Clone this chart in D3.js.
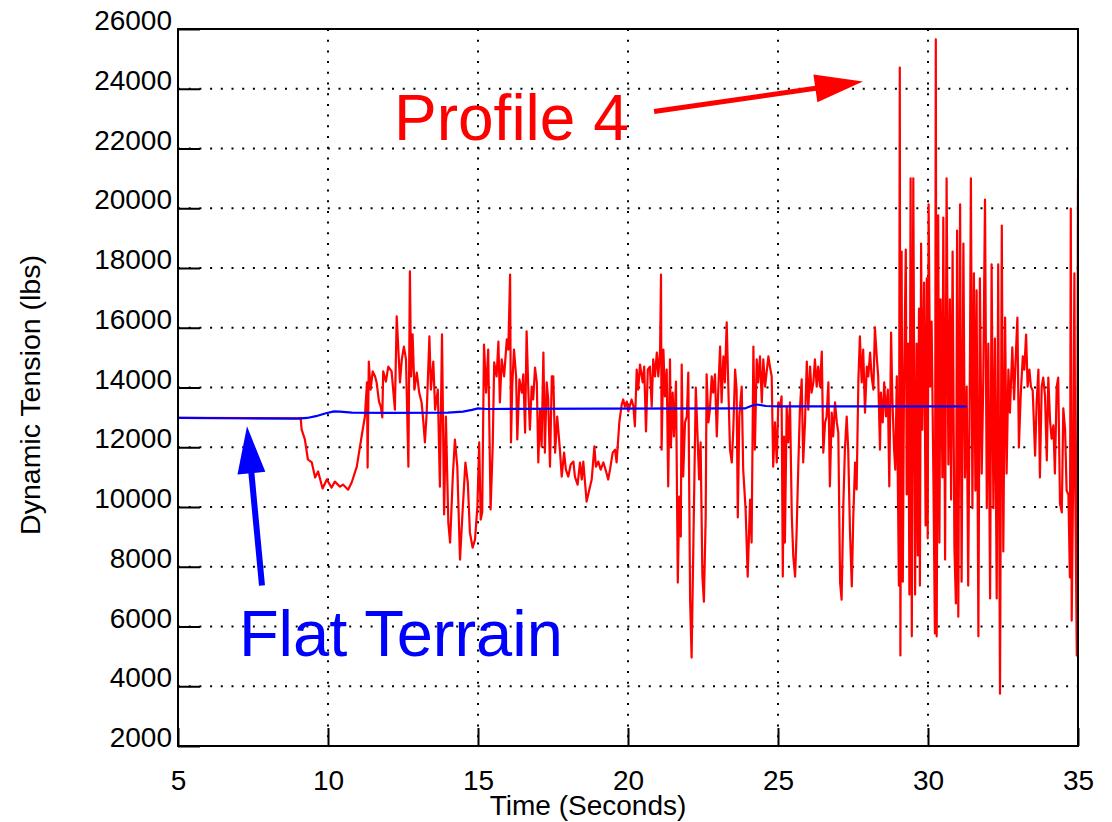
<!DOCTYPE html>
<html>
<head>
<meta charset="utf-8">
<script src="https://cdn.jsdelivr.net/npm/d3@7"></script>
<style>
  body { margin: 0; background: #fff; }
  text { font-family: Arial, "Liberation Sans", sans-serif; fill: #000; }
</style>
</head>
<body>
<svg id="chart" width="1112" height="822"></svg>
<script>
// axis ticks
const xTicks = [5, 10, 15, 20, 25, 30, 35];
const yTicks = [2000, 4000, 6000, 8000, 10000, 12000, 14000, 16000, 18000, 20000, 22000, 24000, 26000];

// Profile 4 run: [time (s), dynamic tension (lbs)]
const profile4 = [
  [5.00,12980],[9.00,12970],[9.09,12980],[9.12,12600],[9.23,12260],[9.33,11590],[9.46,11490],[9.57,10990],
  [9.67,11190],[9.82,10620],[9.96,10920],[10.12,10650],[10.23,10850],[10.40,10680],[10.50,10750],[10.67,10580],
  [10.79,10820],[10.96,11350],[11.12,12360],[11.23,13030],[11.30,14170],[11.32,11320],[11.36,14870],[11.42,13930],
  [11.49,14540],[11.57,14370],[11.62,14170],[11.70,13530],[11.76,13360],[11.81,13000],[11.84,14540],[11.93,14200],
  [12.01,14700],[12.12,14540],[12.23,13260],[12.29,16380],[12.34,15370],[12.40,14170],[12.46,14940],[12.53,15370],
  [12.60,14940],[12.68,11350],[12.73,17890],[12.77,14370],[12.82,15780],[12.88,13930],[12.96,14500],[13.04,13830],
  [13.12,13500],[13.18,12830],[13.23,12160],[13.29,13160],[13.38,15710],[13.43,13930],[13.51,14870],[13.57,13260],
  [13.66,13930],[13.73,10680],[13.80,15780],[13.87,9750],[13.93,13030],[14.01,9480],[14.07,8810],[14.16,11020],
  [14.23,12260],[14.31,11350],[14.40,8240],[14.49,9920],[14.58,11490],[14.66,10820],[14.73,9150],[14.82,8640],
  [14.90,8910],[14.98,10010],[15.04,12160],[15.09,9580],[15.14,9820],[15.20,15440],[15.27,13830],[15.34,15270],
  [15.42,9920],[15.49,12030],[15.54,14840],[15.62,14370],[15.68,15540],[15.73,13500],[15.79,14940],[15.87,14370],
  [15.96,15610],[16.01,15270],[16.07,17780],[16.10,12160],[16.14,14030],[16.20,15270],[16.27,14370],[16.31,12260],
  [16.38,14270],[16.46,13830],[16.51,14440],[16.57,12490],[16.62,15880],[16.68,13830],[16.73,12590],[16.79,14030],
  [16.84,13600],[16.90,14670],[16.96,14170],[17.01,11490],[17.07,13260],[17.12,12030],[17.18,15170],[17.23,11820],
  [17.29,14170],[17.34,13600],[17.40,11350],[17.46,14370],[17.51,14370],[17.57,11820],[17.64,13030],[17.73,11920],
  [17.79,11020],[17.87,11820],[17.93,11250],[18.01,11020],[18.09,11420],[18.18,11520],[18.23,11020],[18.32,10750],
  [18.40,11490],[18.46,10920],[18.51,11520],[18.62,10180],[18.71,10580],[18.79,10920],[18.88,12030],[18.93,11350],
  [19.01,11520],[19.09,11250],[19.18,11490],[19.27,11190],[19.34,10920],[19.40,11250],[19.49,11820],[19.57,11920],
  [19.62,11490],[19.71,12830],[19.79,13430],[19.84,13600],[19.90,13360],[19.96,13530],[20.01,13200],[20.12,13600],
  [20.18,13370],[20.23,12700],[20.29,14600],[20.34,13930],[20.40,14770],[20.49,14170],[20.54,14700],[20.60,12530],
  [20.66,14600],[20.73,14700],[20.79,13360],[20.84,14940],[20.90,14370],[20.96,15170],[21.01,14370],[21.07,15270],
  [21.10,17780],[21.12,11920],[21.18,15270],[21.23,13700],[21.29,14600],[21.34,10690],[21.40,14940],[21.43,12030],
  [21.49,13830],[21.53,12360],[21.60,14200],[21.66,7470],[21.71,10350],[21.76,9010],[21.79,14770],[21.84,11020],
  [21.90,12830],[21.96,13030],[22.01,14500],[22.07,6900],[22.12,4960],[22.18,8810],[22.26,14000],[22.31,12590],
  [22.37,10920],[22.42,12160],[22.48,7670],[22.53,6830],[22.59,9680],[22.62,14440],[22.68,12830],[22.73,13260],
  [22.79,14370],[22.84,13830],[22.90,14440],[22.96,12360],[23.01,13930],[23.07,15370],[23.12,13500],[23.18,15040],
  [23.23,14170],[23.29,16180],[23.34,14170],[23.40,11920],[23.46,11490],[23.51,12590],[23.57,14600],[23.62,13930],
  [23.66,9650],[23.71,13030],[23.79,14030],[23.84,11250],[23.92,9920],[23.99,7670],[24.07,10250],[24.12,8810],
  [24.18,15370],[24.23,11920],[24.29,14940],[24.34,14170],[24.40,15040],[24.46,13500],[24.51,14940],[24.57,14030],
  [24.62,14500],[24.68,15040],[24.73,14700],[24.79,14370],[24.84,11350],[24.90,12830],[24.96,11490],[25.01,13500],
  [25.07,13360],[25.12,13700],[25.16,7670],[25.20,12360],[25.23,8810],[25.29,13360],[25.34,12160],[25.40,13500],
  [25.46,9680],[25.51,8340],[25.57,7670],[25.62,9150],[25.68,11490],[25.73,13260],[25.79,14270],[25.84,11490],
  [25.90,12830],[25.96,14870],[26.01,13260],[26.07,14700],[26.12,13830],[26.18,14170],[26.23,14940],[26.29,14030],
  [26.34,14700],[26.40,14030],[26.46,15200],[26.51,11820],[26.57,12830],[26.62,13030],[26.68,14170],[26.73,10690],
  [26.79,13160],[26.84,12360],[26.90,13500],[26.96,12830],[27.01,12490],[27.07,7470],[27.12,6900],[27.18,10150],
  [27.23,11920],[27.29,13030],[27.34,11920],[27.40,9150],[27.46,7340],[27.51,9680],[27.57,11490],[27.62,10590],
  [27.68,14270],[27.73,15710],[27.79,14170],[27.84,15270],[27.90,13160],[27.96,14700],[28.01,14370],[28.07,15170],
  [28.12,14370],[28.18,13930],[28.23,16010],[28.29,15040],[28.34,14370],[28.40,11920],[28.43,13830],[28.49,12830],
  [28.54,14170],[28.60,13030],[28.66,13930],[28.71,10690],[28.77,15840],[28.81,13700],[28.87,11920],[28.91,11250],
  [28.96,14370],[29.03,7370],[29.06,24710],[29.08,5030],[29.12,18550],[29.16,7500],[29.20,14030],[29.26,18620],
  [29.29,10420],[29.34,15470],[29.38,7070],[29.42,21000],[29.46,5670],[29.51,21000],[29.57,7070],[29.62,15470],
  [29.66,8380],[29.70,16640],[29.73,7370],[29.77,18820],[29.81,12590],[29.87,17510],[29.92,9380],[29.96,17650],
  [29.99,8950],[30.02,20130],[30.07,14030],[30.12,16210],[30.18,10990],[30.23,5770],[30.26,25650],[30.29,5670],
  [30.34,19760],[30.38,8810],[30.42,16950],[30.48,10990],[30.51,19690],[30.57,8240],[30.62,21000],[30.68,11420],
  [30.73,16950],[30.77,10250],[30.82,18550],[30.88,8680],[30.93,6770],[30.97,19250],[31.01,6330],[31.07,20130],
  [31.12,7500],[31.18,18820],[31.23,10990],[31.29,14030],[31.34,7370],[31.40,15200],[31.43,21000],[31.48,9960],
  [31.53,17820],[31.58,10550],[31.62,17250],[31.68,5670],[31.73,17650],[31.79,11120],[31.84,14030],[31.90,20290],
  [31.96,9960],[32.01,15470],[32.07,6940],[32.12,18120],[32.18,9960],[32.23,15640],[32.29,6940],[32.34,18120],
  [32.40,3750],[32.46,19420],[32.51,8510],[32.57,16340],[32.62,11120],[32.68,14600],[32.73,13160],[32.81,15340],
  [32.87,13600],[32.92,14900],[32.98,16340],[33.03,11990],[33.09,13730],[33.16,15040],[33.21,14600],[33.27,15770],
  [33.32,14030],[33.38,14600],[33.43,14030],[33.49,13900],[33.57,11720],[33.62,13460],[33.68,14600],[33.73,10990],
  [33.79,14030],[33.84,14330],[33.90,13730],[33.96,11560],[34.01,14330],[34.07,12860],[34.12,12290],[34.18,12730],
  [34.23,11120],[34.29,14030],[34.34,14330],[34.40,10120],[34.46,9820],[34.51,13300],[34.57,12590],[34.62,10550],
  [34.68,10420],[34.73,7640],[34.76,19990],[34.79,6200],[34.84,11120],[34.88,17820],[34.91,10550],[34.96,5030],
  [35.00,21000]
];

// Flat terrain run
const flatTerrain = [
  [5.0,12980],[7.0,12970],[9.0,12960],[9.3,12980],[9.6,13040],[9.9,13130],[10.2,13200],[10.4,13190],
  [10.8,13160],[12.0,13150],[14.0,13160],[14.5,13190],[14.8,13250],[15.0,13300],[15.3,13280],[19.0,13290],
  [23.9,13300],[24.1,13380],[24.3,13430],[24.6,13380],[25.0,13370],[31.3,13370]
];

// annotation anchors in data units
const profileLabel = { text: "Profile 4", t: 12.2, v: 22300, size: 64 };
const profileArrow = { from: [20.87, 23240], to: [27.83, 24240] };
const flatLabel = { text: "Flat Terrain", t: 7.03, v: 5000, size: 65 };
const flatArrow = { from: [7.8, 7370], to: [7.3, 12700] };

const plotLeft = 178, plotTop = 29;
const width = 900, height = 717;

const svg = d3.select("#chart");
svg.append("rect").attr("width", 1112).attr("height", 822).attr("fill", "#fff");

const x = d3.scaleLinear().domain([5, 35]).range([0, width]);
const y = d3.scaleLinear().domain([2000, 26000]).range([height, 0]);

const g = svg.append("g").attr("transform", "translate(" + plotLeft + "," + plotTop + ")");

g.append("clipPath").attr("id", "plotclip")
  .append("rect").attr("x", 0).attr("y", -2).attr("width", width).attr("height", height + 4);

// dotted grid
g.selectAll(".vgrid").data(xTicks.slice(1, -1)).enter().append("line")
  .attr("x1", d => x(d)).attr("x2", d => x(d)).attr("y1", 0).attr("y2", height)
  .attr("stroke", "#000").attr("stroke-width", 2).attr("stroke-dasharray", "2,8.7");
g.selectAll(".hgrid").data(yTicks.slice(1, -1)).enter().append("line")
  .attr("x1", 0).attr("x2", width).attr("y1", d => y(d)).attr("y2", d => y(d))
  .attr("stroke", "#000").attr("stroke-width", 2).attr("stroke-dasharray", "2,8.7");

// series
const line = d3.line().x(d => x(d[0])).y(d => y(d[1]));
g.append("path").datum(profile4)
  .attr("d", line).attr("fill", "none").attr("stroke", "#ff0000")
  .attr("stroke-width", 2.2).attr("stroke-linejoin", "round")
  .attr("clip-path", "url(#plotclip)");
g.append("path").datum(flatTerrain)
  .attr("d", line).attr("fill", "none").attr("stroke", "#0000ff")
  .attr("stroke-width", 2.2);

// axes
const xAxis = d3.axisBottom(x).tickValues(xTicks).tickSizeInner(-18).tickSizeOuter(0).tickPadding(24);
const yAxis = d3.axisLeft(y).tickValues(yTicks).tickFormat(d3.format("d"))
  .tickSizeInner(-22).tickSizeOuter(0).tickPadding(6);

const gx = g.append("g").attr("transform", "translate(0," + height + ")").call(xAxis);
const gy = g.append("g").call(yAxis);
[gx, gy].forEach(a => {
  a.select(".domain").remove();
  a.selectAll(".tick line").attr("stroke", "#000").attr("stroke-width", 2);
  a.selectAll("text").attr("font-size", 28).attr("fill", "#000")
    .style("font-family", "Arial, 'Liberation Sans', sans-serif");
});
gy.selectAll("text").attr("dy", "0.02em");

// box
g.append("rect").attr("x", 0).attr("y", 0).attr("width", width).attr("height", height)
  .attr("fill", "none").attr("stroke", "#000").attr("stroke-width", 2);

// axis titles
svg.append("text").attr("x", 588).attr("y", 815).attr("text-anchor", "middle")
  .attr("font-size", 28).text("Time (Seconds)");
svg.append("text").attr("transform", "translate(40,395) rotate(-90)")
  .attr("text-anchor", "middle").attr("font-size", 28.5).text("Dynamic Tension (lbs)");

// arrows
function arrow(a, color, w, headLen, headHalf) {
  const x0 = x(a.from[0]), y0 = y(a.from[1]);
  const x1 = x(a.to[0]), y1 = y(a.to[1]);
  const dx = x1 - x0, dy = y1 - y0, len = Math.hypot(dx, dy);
  const ux = dx / len, uy = dy / len;
  const bx = x1 - ux * headLen, by = y1 - uy * headLen;
  g.append("line").attr("x1", x0).attr("y1", y0).attr("x2", bx + ux * 2).attr("y2", by + uy * 2)
    .attr("stroke", color).attr("stroke-width", w);
  g.append("path")
    .attr("d", "M" + x1 + "," + y1 +
      "L" + (bx - uy * headHalf) + "," + (by + ux * headHalf) +
      "L" + (bx + uy * headHalf) + "," + (by - ux * headHalf) + "Z")
    .attr("fill", color);
}
arrow(profileArrow, "#ff0000", 5, 48, 14);
arrow(flatArrow, "#0000ff", 6, 47, 14);

g.append("text").attr("x", x(profileLabel.t)).attr("y", y(profileLabel.v))
  .attr("font-size", profileLabel.size).style("fill", "#ff0000").text(profileLabel.text);
g.append("text").attr("x", x(flatLabel.t)).attr("y", y(flatLabel.v))
  .attr("font-size", flatLabel.size).style("fill", "#0000ff").text(flatLabel.text);
</script>
</body>
</html>
